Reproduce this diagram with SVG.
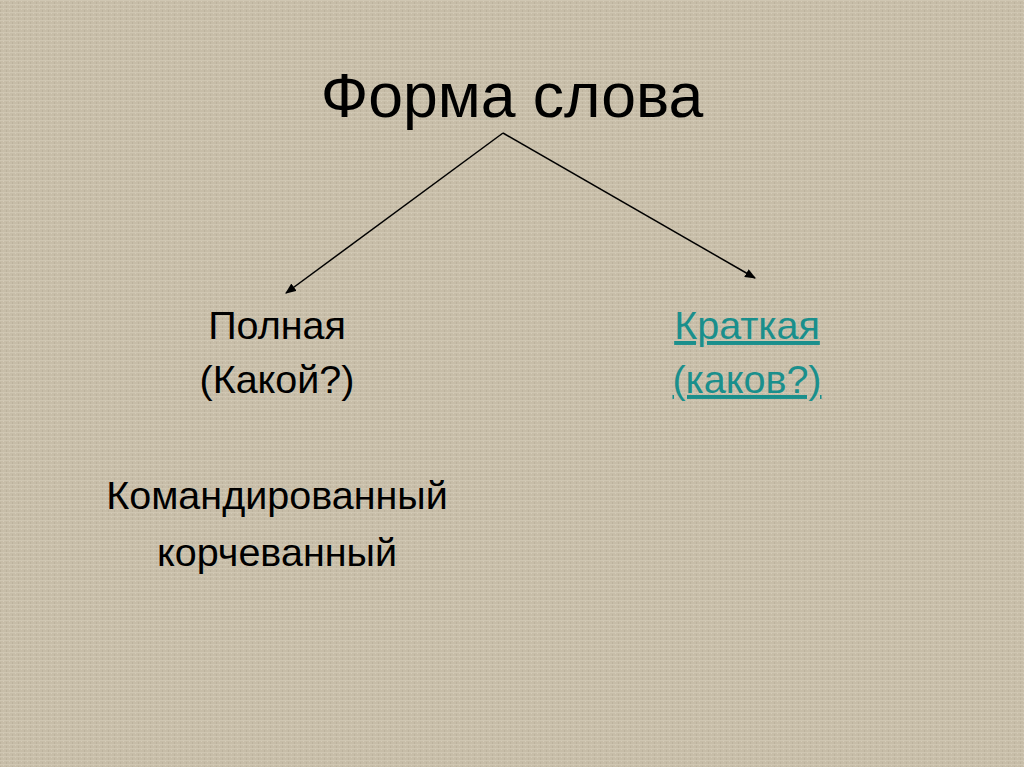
<svg xmlns="http://www.w3.org/2000/svg" width="1024" height="767" viewBox="0 0 1024 767">
<defs>
<pattern id="tex" width="6" height="4" patternUnits="userSpaceOnUse">
<rect width="6" height="4" fill="#c7bda8"/>
<rect x="0" y="0" width="6" height="1" fill="#cfc6b2"/>
<rect x="0" y="2" width="1" height="2" fill="#bcb29d"/>
<rect x="3" y="1" width="1" height="1" fill="#d4cbb7"/>
</pattern>
<marker id="ah" viewBox="0 0 10 10" refX="9" refY="5" markerWidth="11" markerHeight="9" orient="auto" markerUnits="userSpaceOnUse" preserveAspectRatio="none">
<path d="M0,0 L10,5 L0,10 z" fill="#000"/>
</marker>
<style>
.t{font-family:"Liberation Sans",Arial,sans-serif;fill:#000;text-anchor:middle;font-size:39.5px}
.link{fill:#1a8f8c}
</style>
</defs>
<rect width="1024" height="767" fill="url(#tex)"/>
<g id="title"><text class="t" x="512" y="117" style="font-size:62.5px">Форма слова</text></g>
<g id="connectors" stroke="#000" stroke-width="1.5" fill="none">
<line x1="503" y1="133" x2="286" y2="293" marker-end="url(#ah)"/>
<line x1="503" y1="133" x2="755" y2="278" marker-end="url(#ah)"/>
</g>
<g id="full">
<text class="t" x="277" y="339">Полная</text>
<text class="t" x="277" y="393">(Какой?)</text>
<text class="t" x="277" y="509">Командированный</text>
<text class="t" x="277" y="566">корчеванный</text>
</g>
<g id="short">
<text class="t link" x="747" y="339" text-decoration="underline">Краткая</text>
<text class="t link" x="747" y="393" text-decoration="underline">(каков?)</text>
</g>
</svg>
